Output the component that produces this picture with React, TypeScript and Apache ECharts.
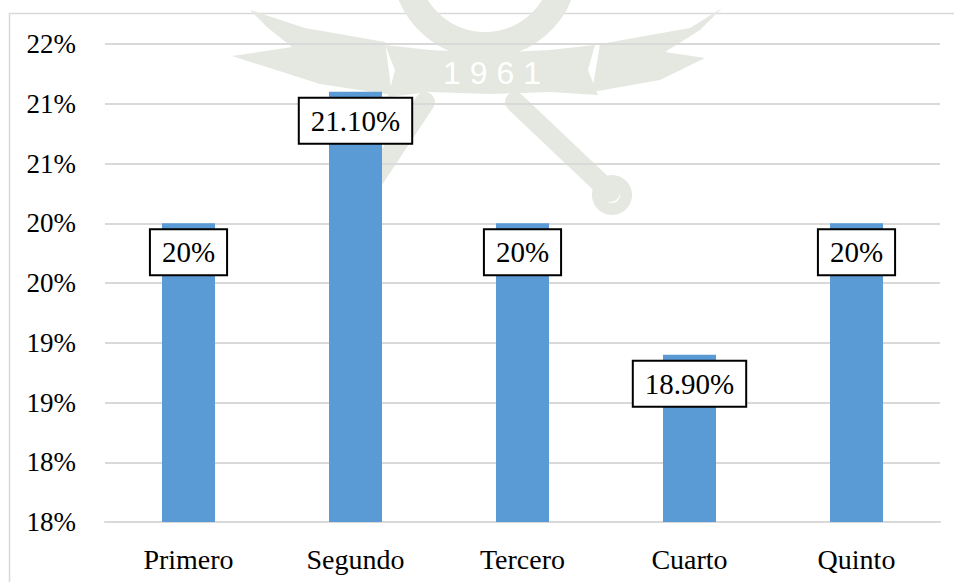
import React, { useEffect, useRef } from "react";
import * as echarts from "echarts";

const categories = ["Primero", "Segundo", "Tercero", "Cuarto", "Quinto"];
const values = [20, 21.1, 20, 18.9, 20];
const valueLabels = ["20%", "21.10%", "20%", "18.90%", "20%"];
const yMin = 17.5;
const yMax = 21.5;
const yStep = 0.5;

const wm = "#e4e8e1";

export default function App() {
  const ref = useRef<HTMLDivElement>(null);
  useEffect(() => {
    document.body.style.margin = "0";
    if (!ref.current) return;
    const chart = echarts.init(ref.current, null, { renderer: "svg" });
    const font = "Liberation Serif";
    chart.setOption({
      animation: false,
      backgroundColor: "#ffffff",
      textStyle: { fontFamily: font },
      graphic: [
        {
          type: "group",
          z: -10,
          silent: true,
          children: [
            // globe arc at top
            { type: "arc", shape: { cx: 485, cy: -35, r: 80, startAngle: 0.15, endAngle: Math.PI - 0.15 }, style: { stroke: wm, lineWidth: 26, fill: "none" } },
            // left wing
            { type: "polygon", shape: { points: [[250, 10], [305, 28], [385, 42], [392, 95], [320, 84], [232, 56], [292, 47], [268, 28]] }, style: { fill: wm } },
            // right wing
            { type: "polygon", shape: { points: [[722, 8], [690, 28], [600, 44], [592, 92], [660, 80], [705, 58], [665, 52], [700, 30]] }, style: { fill: wm } },
            // banner
            { type: "polygon", shape: { points: [[385, 45], [430, 50], [490, 53], [550, 50], [595, 45], [588, 70], [598, 95], [550, 92], [490, 94], [430, 92], [388, 97], [395, 70]] }, style: { fill: wm } },
            { type: "text", style: { x: 492, y: 73, text: "1 9 6 1", fill: "#ffffff", font: "32px 'Liberation Sans'", align: "center", verticalAlign: "middle" } },
            // crossed tools
            { type: "line", shape: { x1: 425, y1: 102, x2: 360, y2: 200 }, style: { stroke: wm, lineWidth: 20, lineCap: "round" } },
            { type: "line", shape: { x1: 515, y1: 102, x2: 610, y2: 192 }, style: { stroke: wm, lineWidth: 20, lineCap: "round" } },
            { type: "ring", shape: { cx: 362, cy: 200, r: 20, r0: 8 }, style: { fill: wm } },
            { type: "ring", shape: { cx: 612, cy: 195, r: 20, r0: 8 }, style: { fill: wm } }
          ]
        },
        {
          type: "rect",
          z: -5,
          silent: true,
          shape: { x: 9.5, y: 13.5, width: 1000, height: 700 },
          style: { fill: "none", stroke: "#d9d9d9", lineWidth: 1.5 }
        }
      ],
      grid: { left: 105, right: 14, top: 44, bottom: 60, containLabel: false },
      xAxis: {
        type: "category",
        data: categories,
        axisLine: { show: true, lineStyle: { color: "#d9d9d9", width: 2 } },
        axisTick: { show: false },
        axisLabel: { color: "#000", fontFamily: font, fontSize: 28, margin: 23 }
      },
      yAxis: {
        type: "value",
        min: yMin,
        max: yMax,
        interval: yStep,
        axisLine: { show: false },
        axisTick: { show: false },
        splitLine: { show: true, lineStyle: { color: "#d9d9d9", width: 2 } },
        axisLabel: {
          color: "#000",
          fontFamily: font,
          fontSize: 27,
          margin: 29,
          formatter: (v: number) => Math.round(v) + "%"
        }
      },
      series: [
        {
          type: "bar",
          data: values,
          barWidth: 53,
          itemStyle: { color: "#5b9bd5" },
          z: 3,
          label: {
            show: true,
            position: "insideTop",
            distance: 7,
            formatter: (p: any) => valueLabels[p.dataIndex],
            color: "#000",
            fontFamily: font,
            fontSize: 29,
            lineHeight: 32,
            backgroundColor: "#ffffff",
            borderColor: "#000",
            borderWidth: 2,
            padding: [6, 11, 6, 11]
          }
        }
      ]
    });
    return () => chart.dispose();
  }, []);
  return <div ref={ref} style={{ width: 954, height: 582 }} />;
}
